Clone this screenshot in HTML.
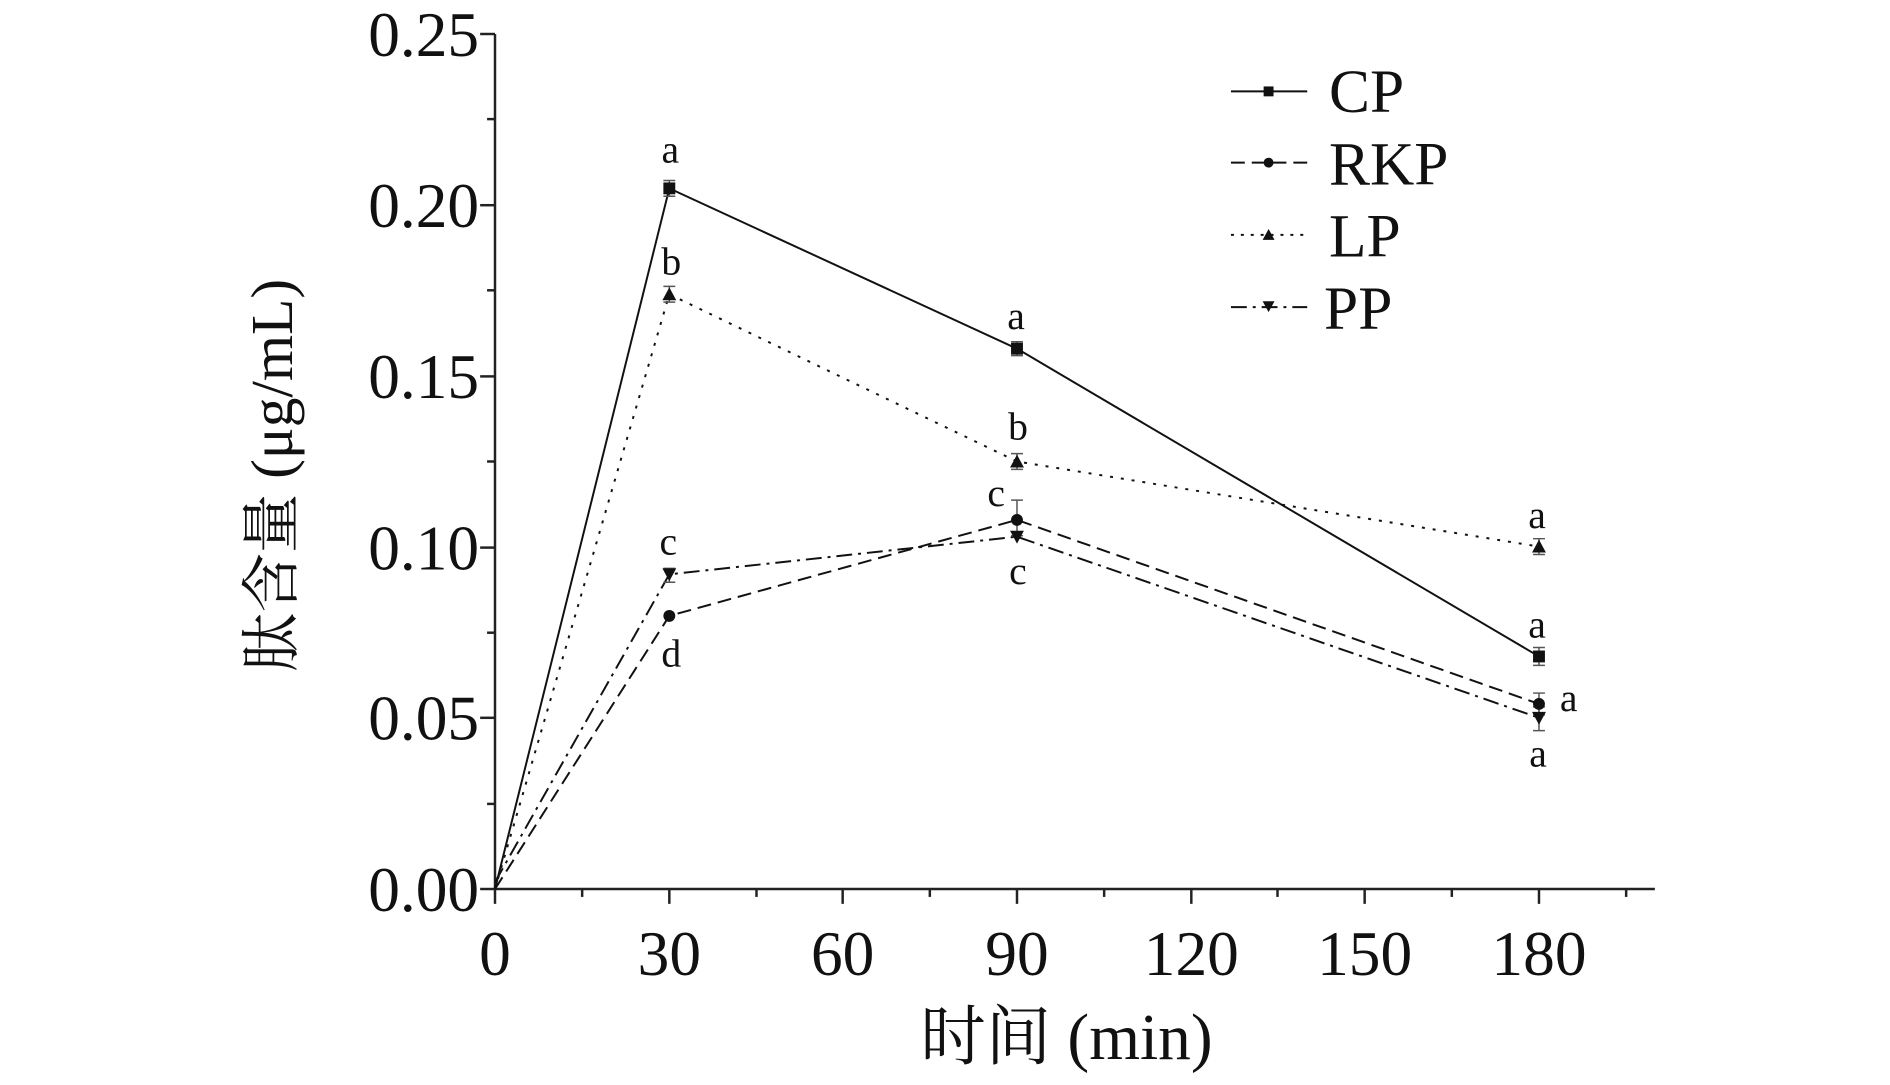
<!DOCTYPE html>
<html><head><meta charset="utf-8"><style>html,body{margin:0;padding:0;background:#fff}</style></head>
<body>
<svg width="1890" height="1080" xmlns="http://www.w3.org/2000/svg" font-family="Liberation Serif, 'Noto Serif CJK SC', serif">
<g transform="matrix(0.9905 0 0 0.9896 -0.25 0.35)">
<g stroke="#222" stroke-width="2.5" fill="none">
<line x1="500" y1="34" x2="500" y2="899"/>
<line x1="499" y1="898" x2="1671" y2="898"/>
<line x1="485" y1="34" x2="500" y2="34"/><line x1="492" y1="120" x2="500" y2="120"/>
<line x1="485" y1="207" x2="500" y2="207"/><line x1="492" y1="293" x2="500" y2="293"/>
<line x1="485" y1="380" x2="500" y2="380"/><line x1="492" y1="466" x2="500" y2="466"/>
<line x1="485" y1="553" x2="500" y2="553"/><line x1="492" y1="639" x2="500" y2="639"/>
<line x1="485" y1="725" x2="500" y2="725"/><line x1="492" y1="812" x2="500" y2="812"/>
<line x1="485" y1="898" x2="500" y2="898"/>
<line x1="500" y1="898" x2="500" y2="913"/><line x1="588" y1="898" x2="588" y2="906"/>
<line x1="676" y1="898" x2="676" y2="913"/><line x1="764" y1="898" x2="764" y2="906"/>
<line x1="851" y1="898" x2="851" y2="913"/><line x1="939" y1="898" x2="939" y2="906"/>
<line x1="1027" y1="898" x2="1027" y2="913"/><line x1="1115" y1="898" x2="1115" y2="906"/>
<line x1="1203" y1="898" x2="1203" y2="913"/><line x1="1290" y1="898" x2="1290" y2="906"/>
<line x1="1378" y1="898" x2="1378" y2="913"/><line x1="1466" y1="898" x2="1466" y2="906"/>
<line x1="1554" y1="898" x2="1554" y2="913"/><line x1="1642" y1="898" x2="1642" y2="906"/>
</g>
<g font-size="64" fill="#111" text-anchor="end">
<text x="484" y="56">0.25</text><text x="484" y="229">0.20</text><text x="484" y="402">0.15</text>
<text x="484" y="575">0.10</text><text x="484" y="747">0.05</text><text x="484" y="920">0.00</text>
</g>
<g font-size="64" fill="#111" text-anchor="middle">
<text x="500" y="985">0</text><text x="676" y="985">30</text><text x="851" y="985">60</text>
<text x="1027" y="985">90</text><text x="1203" y="985">120</text><text x="1378" y="985">150</text><text x="1554" y="985">180</text>
</g>
<text x="1077" y="1070" font-size="66" text-anchor="middle" fill="#111">时间 (min)</text>
<text transform="translate(295,480) rotate(-90)" font-size="60" text-anchor="middle" fill="#111">肽含量 (μg/mL)</text>
<g fill="none" stroke="#111" stroke-width="2">
<polyline points="500,898 676,190 1027,352 1554,663"/>
<polyline points="500,898 676,297 1027,466 1554,552" stroke-dasharray="3,8"/>
<polyline points="500,898 676,622 1027,525 1554,711" stroke-dasharray="14,7"/>
<polyline points="500,891 676,580 1027,542 1554,725" stroke-dasharray="16,6,3,6"/>
</g>
<g stroke="#555" stroke-width="1.5">
<path d="M670,182h12M676,182v16M670,198h12"/>
<path d="M670,289h12M676,289v16M670,305h12"/>
<path d="M670,574h12M676,574v14M670,588h12"/>
<path d="M1021,345h12M1027,345v14M1021,359h12"/>
<path d="M1021,458h12M1027,458v16M1021,474h12"/>
<path d="M1021,505h12M1027,505v36M1021,541h12"/>
<path d="M1548,544h12M1554,544v16M1548,560h12"/>
<path d="M1548,654h12M1554,654v18M1548,672h12"/>
<path d="M1548,700h12M1554,700v22M1548,722h12"/>
<path d="M1548,714h12M1554,714v24M1548,738h12"/>
</g>
<g fill="#111">
<rect x="670" y="184" width="12" height="12"/><rect x="1021" y="346" width="12" height="12"/><rect x="1548" y="657" width="12" height="12"/>
<polygon points="676,290 683,303 669,303"/><polygon points="1027,459 1034,472 1020,472"/><polygon points="1554,545 1561,558 1547,558"/>
<circle cx="676" cy="622" r="6"/><circle cx="1027" cy="525" r="6"/><circle cx="1554" cy="711" r="6"/>
<polygon points="669,574 683,574 676,587"/><polygon points="1020,536 1034,536 1027,549"/><polygon points="1547,719 1561,719 1554,732"/>
</g>
<g font-size="40" fill="#111" text-anchor="middle">
<text x="677" y="164">a</text><text x="678" y="277">b</text><text x="675" y="560">c</text><text x="678" y="673">d</text>
<text x="1026" y="332">a</text><text x="1028" y="444">b</text><text x="1006" y="511">c</text><text x="1028" y="590">c</text>
<text x="1552" y="533">a</text><text x="1552" y="644">a</text><text x="1584" y="718">a</text><text x="1553" y="774">a</text>
</g>
<g stroke="#111" stroke-width="2" fill="none">
<line x1="1243" y1="92" x2="1320" y2="92"/>
<line x1="1243" y1="164" x2="1320" y2="164" stroke-dasharray="14,7"/>
<line x1="1243" y1="237" x2="1320" y2="237" stroke-dasharray="3,7"/>
<line x1="1243" y1="310" x2="1320" y2="310" stroke-dasharray="16,6,3,6"/>
</g>
<g fill="#111">
<rect x="1276" y="87" width="10" height="10"/><circle cx="1281" cy="164" r="5"/>
<polygon points="1281,231 1287,242 1275,242"/><polygon points="1275,304 1287,304 1281,315"/>
</g>
<g font-size="62" fill="#111">
<text x="1342" y="113">CP</text><text x="1342" y="186">RKP</text><text x="1342" y="259">LP</text><text x="1337" y="332">PP</text>
</g>
</g>
</svg>
</body></html>
